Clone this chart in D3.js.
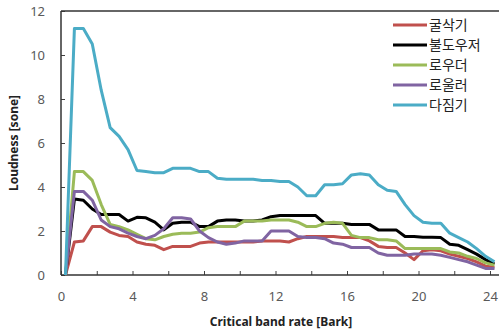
<!DOCTYPE html>
<html><head><meta charset="utf-8">
<script src="https://cdn.jsdelivr.net/npm/d3@7"></script>
<style>body{margin:0;background:#fff}svg{display:block}</style>
</head><body>
<svg id="c" width="499" height="332"></svg>
<script>
const bark = d3.range(49).map(i => 0.25 + 0.5 * i);
const seriesNames = ["굴삭기", "불도우저", "로우더", "로울러", "다짐기"];
const colors = ["#C0504D", "#000000", "#9BBB59", "#8064A2", "#4BACC6"];
const excavator = [0,1.5,1.55,2.2,2.2,1.95,1.8,1.75,1.5,1.4,1.35,1.15,1.3,1.3,1.3,1.45,1.5,1.5,1.5,1.5,1.5,1.5,1.55,1.55,1.55,1.5,1.65,1.75,1.75,1.75,1.75,1.7,1.7,1.7,1.55,1.3,1.25,1.25,1.0,0.7,1.1,1.15,1.1,0.95,0.85,0.75,0.6,0.4,0.35];
const bulldozer = [0,3.45,3.4,3.0,2.75,2.75,2.75,2.45,2.62,2.6,2.4,2.05,2.35,2.4,2.4,2.2,2.2,2.45,2.5,2.5,2.45,2.45,2.5,2.65,2.7,2.7,2.7,2.7,2.7,2.35,2.35,2.35,2.3,2.3,2.3,2.05,2.05,2.05,1.75,1.75,1.72,1.72,1.7,1.4,1.35,1.15,0.95,0.7,0.5];
const loader = [0,4.7,4.7,4.3,3.2,2.3,2.2,2.05,1.85,1.65,1.6,1.75,1.85,1.9,1.9,1.95,2.15,2.2,2.2,2.2,2.45,2.45,2.45,2.5,2.5,2.5,2.4,2.2,2.2,2.35,2.4,2.35,1.8,1.7,1.7,1.6,1.6,1.55,1.2,1.2,1.2,1.2,1.2,1.05,1.0,0.85,0.75,0.55,0.45];
const roller = [0,3.8,3.8,3.4,2.5,2.2,2.1,1.9,1.75,1.65,1.8,2.1,2.6,2.6,2.55,2.0,1.7,1.5,1.4,1.45,1.55,1.55,1.55,2.0,2.0,2.0,1.75,1.7,1.7,1.65,1.45,1.4,1.25,1.25,1.25,1.0,0.9,0.9,0.9,0.95,0.95,0.95,0.9,0.8,0.7,0.6,0.45,0.3,0.3];
const compactor = [0,11.2,11.2,10.5,8.4,6.7,6.3,5.7,4.75,4.7,4.65,4.65,4.85,4.85,4.85,4.7,4.7,4.4,4.35,4.35,4.35,4.35,4.3,4.3,4.25,4.25,4.0,3.6,3.6,4.1,4.1,4.15,4.55,4.6,4.55,4.1,3.85,3.8,3.2,2.7,2.4,2.35,2.35,1.9,1.7,1.5,1.2,0.85,0.6];
const xTicks = d3.range(0, 25, 2);
const xLabels = [0, 4, 8, 12, 16, 20, 24];
const yTicks = [0, 2, 4, 6, 8, 10, 12];
const allSeries = [excavator, bulldozer, loader, roller, compactor];

const svg = d3.select("#c");
const x = d3.scaleLinear().domain([0, 24]).range([61, 490]);
const y = d3.scaleLinear().domain([0, 12]).range([275, 11]);
const W = 499;

const gx = svg.append("g").attr("transform", `translate(0,${y(0)})`)
  .call(d3.axisBottom(x).tickValues(xTicks).tickSizeInner(-4).tickSizeOuter(0).tickPadding(17)
    .tickFormat(d => xLabels.includes(d) ? d : ""));
gx.select(".domain").remove();
gx.selectAll(".tick line").attr("stroke", "#404040");
gx.selectAll("text").attr("fill", "#595959").style("font", "13px 'Noto Sans', sans-serif");

const gy = svg.append("g").attr("transform", `translate(${x(0)},0)`)
  .call(d3.axisLeft(y).tickValues(yTicks).tickSizeInner(-4).tickSizeOuter(0).tickPadding(16));
gy.select(".domain").remove();
gy.selectAll(".tick line").attr("stroke", "#404040");
gy.selectAll("text").attr("fill", "#595959").style("font", "13px 'Noto Sans', sans-serif");

const frame = svg.append("g").attr("stroke", "#333").attr("stroke-width", 1.5);
frame.append("line").attr("x1", x(0)).attr("x2", W).attr("y1", y(12)).attr("y2", y(12));
frame.append("line").attr("x1", x(0)).attr("x2", W).attr("y1", y(0)).attr("y2", y(0));
frame.append("line").attr("x1", x(0)).attr("x2", x(0)).attr("y1", y(12)).attr("y2", y(0));

const line = d3.line().x((d, i) => x(bark[i])).y(d => y(d));
allSeries.forEach((s, k) => {
  svg.append("path").datum(s).attr("d", line).attr("fill", "none")
    .attr("stroke", colors[k]).attr("stroke-width", 3).attr("stroke-linejoin", "round");
});

svg.append("text").attr("x", 281).attr("y", 326).attr("text-anchor", "middle")
  .style("font", "bold 12px 'Noto Sans', sans-serif").attr("fill", "#222").text("Critical band rate [Bark]");
svg.append("text").attr("transform", `translate(18,${(y(0) + y(12)) / 2}) rotate(-90)`)
  .attr("text-anchor", "middle")
  .style("font", "bold 12px 'Noto Sans', sans-serif").attr("fill", "#222").text("Loudness [sone]");

const lg = svg.append("g");
seriesNames.forEach((n, k) => {
  const ly = 25 + k * 20;
  lg.append("line").attr("x1", 393).attr("x2", 427).attr("y1", ly).attr("y2", ly)
    .attr("stroke", colors[k]).attr("stroke-width", 3);
  lg.append("text").attr("x", 429).attr("y", ly + 5)
    .style("font", "14px 'Noto Sans CJK KR', sans-serif").attr("fill", "#222").text(n);
});
</script>
</body></html>
